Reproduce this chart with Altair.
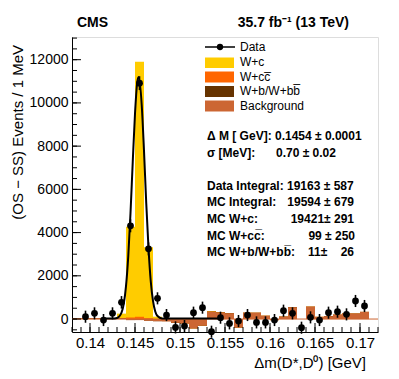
import altair as alt
import pandas as pd

# ---------------- data ----------------
data_x = [0.1395, 0.1405, 0.1415, 0.1425, 0.1435, 0.1445, 0.1455, 0.1465,
          0.1475, 0.1485, 0.1495, 0.1505, 0.1515, 0.1525, 0.1535, 0.1545,
          0.1555, 0.1565, 0.1575, 0.1585, 0.1595, 0.1605, 0.1615, 0.1625,
          0.1635, 0.1645, 0.1655, 0.1665, 0.1675, 0.1685, 0.1695, 0.1705]
data_y = [108, 263, -46, 263, 773, 4314, 10915, 3247,
          958, 185, -386, -325, 294, 526, -587, 62,
          -201, -93, 185, -155, -155, -46, 386, 263,
          -402, 77, -46, 294, 340, 216, 835, 603]
data_err = [280, 280, 280, 280, 290, 300, 320, 300,
            280, 280, 280, 280, 280, 280, 280, 280,
            280, 280, 280, 280, 280, 280, 280, 280,
            280, 280, 280, 280, 280, 280, 280, 280]

mc_lo = [0.138, 0.139, 0.140, 0.141, 0.142, 0.143, 0.144, 0.145, 0.146, 0.147,
         0.148, 0.149, 0.150, 0.151, 0.152, 0.153, 0.154, 0.155, 0.156, 0.157,
         0.158, 0.159, 0.160, 0.161, 0.162, 0.163, 0.164, 0.165, 0.166, 0.167,
         0.168, 0.169, 0.170, 0.171]
mc_bkg = [30, 40, 40, 30, 20, 20, -50, -50, -80, -100,
          -100, -170, -200, -430, -300, 340, 300, 260, -390, 290,
          290, 150, -50, 110, 540, 0, 570, 100, 130, 200,
          250, 250, 330, 0]
mc_wb = [0, 0, 0, 0, 0, 0, 3, 5, 3, 0,
         0, 0, 0, 0, 0, 0, 0, 0, 0, 0,
         0, 0, 0, 0, 0, 0, 0, 0, 0, 0,
         0, 0, 0, 0]
mc_wcc = [0, 0, 0, 0, 0, 30, 120, 150, 120, 60,
          0, 0, 0, 0, 0, 0, 0, 0, 0, 0,
          0, 0, 0, 0, 0, 0, 0, 0, 0, 0,
          0, 0, 0, 0]
mc_wc = [0, 0, 0, 0, 30, 200, 4200, 11800, 3280, 150,
         30, 0, 0, 0, 0, 30, 20, 0, 0, 0,
         0, 0, 0, 0, 0, 0, 0, 0, 0, 0,
         0, 0, 0, 0]

fit_x = [0.1415, 0.1425, 0.1430, 0.1435, 0.14375, 0.1440, 0.14425, 0.1445,
         0.14475, 0.1450, 0.14525, 0.1454, 0.14575, 0.1460, 0.14625, 0.1465,
         0.14675, 0.1470, 0.14725, 0.1475, 0.1480, 0.1490, 0.1545]
fit_y = [20, 20, 50, 300, 700, 1520, 2900, 4900,
         7280, 9500, 10950, 11200, 9880, 7780, 5360, 3280,
         1750, 840, 350, 140, 30, 20, 20]

x_major = [0.14, 0.145, 0.15, 0.155, 0.16, 0.165, 0.17]
y_major = [0, 2000, 4000, 6000, 8000, 10000, 12000]

C_WC, C_WCC, C_WB, C_BKG = "#ffcc00", "#ff6600", "#663300", "#cc6633"
FONT = "Liberation Sans"
NB = "\u00a0"

W, H = 306, 295
xs = alt.Scale(domain=[0.138, 0.172], nice=False, zero=False)
ys = alt.Scale(domain=[-600, 13050], nice=False, zero=False)
x_axis = alt.Axis(values=x_major, format=".3~f", ticks=False, grid=False,
                  labelFont=FONT, labelFontSize=15, labelColor="black",
                  labelPadding=3, domainColor="black", domainWidth=1,
                  labelFlush=False, title=None)
y_axis = alt.Axis(values=y_major, format="d", ticks=False, grid=False,
                  labelFont=FONT, labelFontSize=14, labelColor="black",
                  labelPadding=4, domainColor="black", domainWidth=1, title=None)


def X(f):
    return alt.X(f, scale=xs, axis=x_axis, title=None)


def Y(f):
    return alt.Y(f, scale=ys, axis=y_axis, title=None)


# ---------------- tables ----------------
mc = pd.DataFrame({"lo": mc_lo, "bkg": mc_bkg, "wb": mc_wb, "wcc": mc_wcc, "wc": mc_wc})
mc["hi"] = mc["lo"] + 0.001
mc["zero"] = 0.0
mc["c_bkg"] = mc["bkg"]
mc["c_wb"] = mc["c_bkg"] + mc["wb"]
mc["c_wcc"] = mc["c_wb"] + mc["wcc"]
mc["c_wc"] = mc["c_wcc"] + mc["wc"]

dd = pd.DataFrame({"x": data_x, "y": data_y, "e": data_err})
dd["lo"] = dd["y"] - dd["e"]
dd["hi"] = dd["y"] + dd["e"]

fit = pd.DataFrame({"x": fit_x, "y": fit_y})


def bars(col, color):
    return alt.Chart(mc).mark_rect(color=color, strokeWidth=0).encode(
        x=X("lo:Q"), x2="hi:Q", y=Y(f"{col}:Q"), y2="zero:Q")


zero_line = alt.Chart(mc).mark_rule(color=C_BKG, strokeWidth=1).encode(
    x=X("lo:Q"), x2="hi:Q", y=Y("zero:Q"))

fit_line = alt.Chart(fit).mark_line(color="black", strokeWidth=2, interpolate="monotone").encode(
    x=X("x:Q"), y=Y("y:Q"))

err = alt.Chart(dd).mark_rule(color="black", strokeWidth=1.6).encode(
    x=X("x:Q"), y=Y("lo:Q"), y2="hi:Q")

pts = alt.Chart(dd).mark_circle(color="black", size=46, opacity=1).encode(
    x=X("x:Q"), y=Y("y:Q"))

# inward ticks (ROOT style)
x_minor = [round(0.138 + 0.001 * i, 3) for i in range(35)]
y_minor = [-500 + 500 * i for i in range(28)]
xt_maj = alt.Chart(pd.DataFrame({"v": x_major})).mark_rule(color="black").encode(
    x=X("v:Q"), y=alt.value(H), y2=alt.value(H - 9))
xt_min = alt.Chart(pd.DataFrame({"v": x_minor})).mark_rule(color="black").encode(
    x=X("v:Q"), y=alt.value(H), y2=alt.value(H - 5))
yt_maj = alt.Chart(pd.DataFrame({"v": y_major})).mark_rule(color="black").encode(
    y=Y("v:Q"), x=alt.value(0), x2=alt.value(9))
yt_min = alt.Chart(pd.DataFrame({"v": y_minor})).mark_rule(color="black").encode(
    y=Y("v:Q"), x=alt.value(0), x2=alt.value(5))


def txt(s, x, y, size=12, weight="normal", align="left", angle=0):
    return alt.Chart(pd.DataFrame({"t": [s]})).mark_text(
        font=FONT, fontSize=size, fontWeight=weight, align=align, baseline="middle",
        angle=angle, color="black").encode(x=alt.value(x), y=alt.value(y), text="t:N")


def box(x1, x2, y1, y2, color):
    return alt.Chart(pd.DataFrame({"a": [0]})).mark_rect(color=color).encode(
        x=alt.value(x1), x2=alt.value(x2), y=alt.value(y1), y2=alt.value(y2))


legend = [
    alt.Chart(pd.DataFrame({"a": [0]})).mark_rule(color="black", strokeWidth=1.5).encode(
        x=alt.value(133), x2=alt.value(163), y=alt.value(10)),
    alt.Chart(pd.DataFrame({"a": [0]})).mark_circle(color="black", size=40, opacity=1).encode(
        x=alt.value(148), y=alt.value(10)),
    box(133, 162, 20.5, 31, C_WC),
    box(133, 162, 34.5, 45.5, C_WCC),
    box(133, 162, 49, 60, C_WB),
    box(133, 162, 63.5, 74.5, C_BKG),
    txt("Data", 168, 9.5),
    txt("W+c", 168, 25),
    txt("W+cc\u0305", 168, 39.5),
    txt("W+b/W+bb\u0305", 168, 54),
    txt("Background", 168, 68.5),
]

lx, bold = 135, "bold"
info = [
    txt("\u0394 M [ GeV]: 0.1454 \u00b1 0.0001", lx, 98.5, weight=bold),
    txt("\u03c3 [MeV]:", lx, 116, weight=bold),
    txt("0.70 \u00b1 0.02", 204, 116, weight=bold),
    txt("Data Integral: 19163 \u00b1 587", lx, 148.5, weight=bold),
    txt("MC Integral:", lx, 165, weight=bold),
    txt("19594 \u00b1 679", 282, 165, weight=bold, align="right"),
    txt("MC W+c:", lx, 181.5, weight=bold),
    txt("19421\u00b1 291", 282, 181.5, weight=bold, align="right"),
    txt("MC W+cc\u0305:", lx, 198.5, weight=bold),
    txt("99 \u00b1 250", 283, 198.5, weight=bold, align="right"),
    txt("MC W+b/W+bb\u0305:", lx, 215, weight=bold),
    txt("11\u00b1" + NB * 4 + "26", 282, 215, weight=bold, align="right"),
]

titles = [
    txt("CMS", 5, -14, size=14, weight="bold"),
    txt("35.7 fb\u207b\u00b9 (13 TeV)", 277, -14, size=14, weight="bold", align="right"),
    txt("\u0394m(D*,D\u2070) [GeV]", 294, 326, size=15, align="right"),
    txt("(OS \u2212 SS) Events / 1 MeV", -54, 8, size=15, align="right", angle=270),
]

layers = [bars("c_wc", C_WC), bars("c_wcc", C_WCC), bars("c_wb", C_WB), bars("c_bkg", C_BKG),
          zero_line, fit_line, err, pts,
          xt_maj, xt_min, yt_maj, yt_min] + legend + info + titles

chart = alt.layer(*layers).properties(
    width=W, height=H,
    autosize=alt.AutoSizeParams(type="none"),
    padding={"left": 64, "top": 29, "right": 13, "bottom": 39},
).configure_view(stroke="#333", strokeWidth=1).configure(background="white")

chart.save("out.html", embed_options={"renderer": "svg", "actions": False})
